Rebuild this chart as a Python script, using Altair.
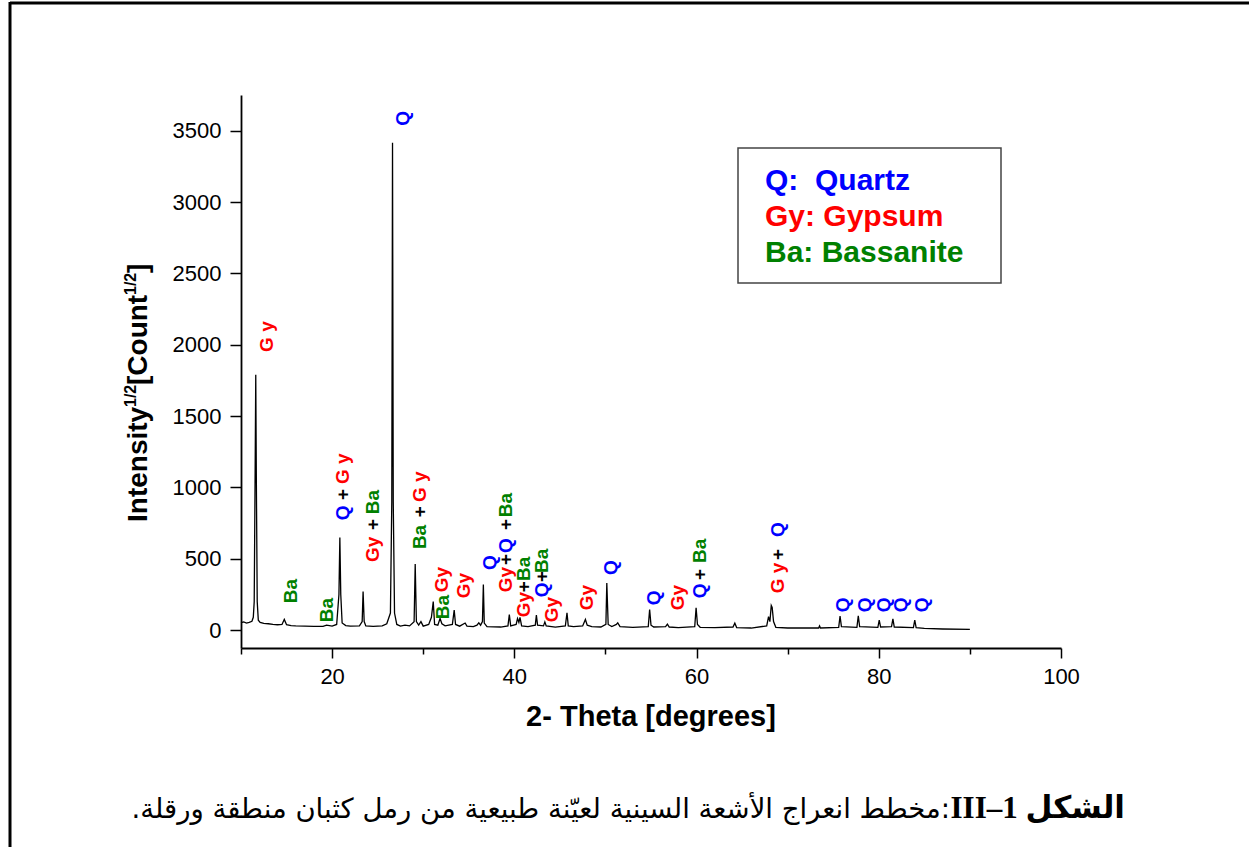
import altair as alt
import pandas as pd

# ---------------- data ----------------
two_theta = [10.0, 10.3, 10.6, 10.9, 11.2, 11.35, 11.45, 11.55, 11.62, 11.68, 11.78, 11.9, 12.1, 12.5,
             13.0, 13.5, 14.0, 14.5, 14.75, 15.0, 15.5, 16.0, 17.0, 18.0, 19.0, 19.4, 20.0, 20.5,
             20.75, 20.85, 20.95, 21.1, 21.5, 22.0, 23.0, 23.3, 23.4, 23.52, 23.7, 24.5, 25.5, 26.0,
             26.4, 26.55, 26.63, 26.71, 26.85, 27.1, 27.5, 28.0, 28.5, 29.0, 29.12, 29.25, 29.5, 29.75,
             30.0, 30.6, 30.9, 31.1, 31.25, 31.6, 31.85, 32.05, 32.4, 33.2, 33.4, 33.55, 34.0, 34.6,
             34.8, 35.5, 35.9, 36.1, 36.3, 36.5, 36.6, 36.7, 37.0, 38.5, 39.3, 39.45, 39.6, 40.2,
             40.35, 40.5, 40.62, 40.8, 41.5, 42.3, 42.42, 42.55, 43.2, 43.35, 43.5, 44.5, 45.6, 45.78,
             45.92, 46.5, 47.5, 47.8, 48.0, 48.5, 49.5, 50.05, 50.15, 50.3, 50.7, 51.2, 51.35, 51.6,
             53.0, 54.7, 54.85, 55.0, 55.3, 56.6, 56.8, 57.0, 58.0, 59.8, 59.95, 60.1, 60.4, 62.0,
             64.0, 64.2, 64.4, 66.0, 67.7, 67.9, 68.05, 68.2, 68.3, 68.45, 68.7, 70.0, 73.4, 73.5,
             73.6, 75.6, 75.75, 75.9, 77.6, 77.75, 77.9, 79.9, 80.05, 80.2, 81.4, 81.55, 81.7, 83.8,
             83.95, 84.1, 85.0, 87.0, 90.0]
intensity = [52, 58, 50, 55, 62, 90, 200, 1100, 1790, 1100, 200, 70, 55, 48,
             45, 40, 38, 40, 75, 38, 32, 30, 28, 26, 26, 35, 28, 40,
             250, 650, 250, 50, 32, 28, 30, 60, 270, 60, 30, 26, 30, 45,
             120, 900, 3415, 900, 120, 40, 28, 35, 30, 60, 463, 60, 35, 60,
             28, 40, 90, 200, 40, 35, 82, 45, 30, 40, 140, 40, 28, 50,
             28, 25, 35, 52, 35, 60, 320, 50, 25, 22, 30, 110, 30, 40,
             82, 55, 89, 30, 25, 35, 105, 35, 30, 58, 30, 22, 30, 121,
             30, 25, 30, 75, 35, 25, 22, 40, 330, 40, 25, 40, 51, 25,
             20, 25, 145, 35, 22, 25, 42, 22, 18, 25, 157, 40, 20, 18,
             22, 49, 18, 15, 30, 94, 60, 173, 160, 60, 20, 15, 15, 30,
             15, 20, 98, 25, 20, 101, 25, 20, 70, 22, 25, 79, 22, 18,
             70, 18, 12, 8, 5]

label_text = ["G y", "Ba", "Ba",
              "Q", "+", "G y",
              "Gy", "+", "Ba",
              "Q",
              "Ba", "+", "G y",
              "Gy", "Ba", "Gy", "Q",
              "Gy", "+", "Q", "+", "Ba",
              "Gy", "+", "Ba",
              "Q", "+", "Ba",
              "Gy", "Gy", "Q", "Q", "Gy",
              "Q", "+", "Ba",
              "G y", "+", "Q",
              "Q", "Q", "Q", "Q", "Q"]
label_mineral = ["Gy", "Ba", "Ba",
                 "Q", "plus", "Gy",
                 "Gy", "plus", "Ba",
                 "Q",
                 "Ba", "plus", "Gy",
                 "Gy", "Ba", "Gy", "Q",
                 "Gy", "plus", "Q", "plus", "Ba",
                 "Gy", "plus", "Ba",
                 "Q", "plus", "Ba",
                 "Gy", "Gy", "Q", "Q", "Gy",
                 "Q", "plus", "Ba",
                 "Gy", "plus", "Q",
                 "Q", "Q", "Q", "Q", "Q"]
label_x = [12.86, 15.49, 19.45,
           21.21, 21.21, 21.21,
           24.5, 24.5, 24.5,
           27.8,
           29.67, 29.67, 29.67,
           32.09, 32.2, 34.5, 37.36,
           39.12, 39.12, 39.12, 39.12, 39.12,
           41.1, 41.1, 41.1,
           43.08, 43.08, 43.08,
           44.18, 48.02, 50.66, 55.38, 57.91,
           60.33, 60.33, 60.33,
           68.9, 68.9, 68.9,
           76.04, 78.46, 80.55, 82.42, 84.73]
label_y = [1950, 189, 56,
           771, 912, 1024,
           477, 701, 813,
           3534,
           568, 792, 898,
           266, 77, 224, 421,
           266, 456, 540, 701, 792,
           91, 266, 344,
           231, 337, 400,
           56, 140, 386, 175, 140,
           224, 351, 470,
           259, 491, 652,
           126, 126, 126, 126, 126]

mineral_names = ["Q", "Gy", "Ba", "plus"]
mineral_colors = ["#0000FF", "#FF0000", "#008000", "#000000"]

legend_lines = ["Q:\u00a0 Quartz", "Gy: Gypsum", "Ba: Bassanite"]

x_tick_values = [10, 20, 30, 40, 50, 60, 70, 80, 90, 100]
y_tick_values = [0, 250, 500, 750, 1000, 1250, 1500, 1750, 2000, 2250, 2500, 2750,
                 3000, 3250, 3500, 3750]

caption_bold = "\u202bالشكل III\u20131\u202c"
caption_rest = "\u202b:مخطط انعراج الأشعة السينية لعيّنة طبيعية من رمل كثبان منطقة ورقلة.\u202c"

# ---------------- chart ----------------
W, H = 820, 553
FONT = "Liberation Sans"

pattern = pd.DataFrame({"two_theta": two_theta, "intensity": intensity})
labels = pd.DataFrame({"t": label_text, "m": label_mineral, "x": label_x, "y": label_y})

xscale = alt.Scale(domain=[10, 100], nice=False)
yscale = alt.Scale(domain=[-125, 3750], nice=False, zero=False)

x_axis = alt.Axis(
    values=x_tick_values,
    labelExpr="datum.value % 20 === 0 ? datum.label : ''",
    tickSize={"condition": {"test": "datum.value % 20 === 0", "value": 10}, "value": 6},
    title=None, labelPadding=8, labelFlush=False, labelOverlap=False, format="d", grid=False,
)
y_axis = alt.Axis(
    values=y_tick_values,
    labelExpr="datum.value % 500 === 0 ? datum.label : ''",
    tickSize={"condition": {"test": "datum.value % 500 === 0", "value": 11}, "value": 6},
    title=None, labelPadding=9, labelFlush=False, labelOverlap=False, format="d", grid=False,
)

line = alt.Chart(pattern).mark_line(color="black", strokeWidth=1.3).encode(
    x=alt.X("two_theta:Q", scale=xscale, axis=x_axis),
    y=alt.Y("intensity:Q", scale=yscale, axis=y_axis),
)

peak_labels = alt.Chart(labels).mark_text(
    angle=270, align="left", baseline="middle", font=FONT, fontWeight="bold", fontSize=19
).encode(
    x=alt.X("x:Q", scale=xscale),
    y=alt.Y("y:Q", scale=yscale),
    text="t:N",
    color=alt.Color("m:N", scale=alt.Scale(domain=mineral_names, range=mineral_colors), legend=None),
)

# legend box
legend_box = alt.Chart().mark_rect(fill="white", stroke="#444444", strokeWidth=1.5).encode(
    x=alt.value(497), x2=alt.value(760), y=alt.value(53), y2=alt.value(188)
)
legend_texts = []
for i, (txt, col) in enumerate(zip(legend_lines, mineral_colors[:3])):
    legend_texts.append(
        alt.Chart().mark_text(
            text=txt, color=col, align="left", baseline="alphabetic",
            font=FONT, fontWeight="bold", fontSize=30
        ).encode(x=alt.value(524), y=alt.value(95 + 36 * i))
    )

# axis titles
x_title = alt.Chart().mark_text(
    text="2- Theta [degrees]", align="center", baseline="alphabetic",
    font=FONT, fontWeight="bold", fontSize=29, color="black"
).encode(x=alt.value(410), y=alt.value(631))

y_pieces = [("Intensity", 28, 427, -94), ("1/2", 16, 312, -105),
            ("[Count", 28, 290, -94), ("1/2", 16, 200, -105), ("]", 28, 178, -94)]
y_title = [
    alt.Chart().mark_text(
        text=t, angle=270, align="left", baseline="alphabetic",
        font=FONT, fontWeight="bold", fontSize=fs, color="black"
    ).encode(x=alt.value(px), y=alt.value(py))
    for t, fs, py, px in y_pieces
]

# page frame
frame_top = alt.Chart().mark_rule(color="black", strokeWidth=3).encode(
    x=alt.value(-231), x2=alt.value(1008), y=alt.value(-92)
)
frame_left = alt.Chart().mark_rule(color="black", strokeWidth=3).encode(
    x=alt.value(-231), y=alt.value(-93), y2=alt.value(752)
)

# caption
cap_bold = alt.Chart().mark_text(
    text=caption_bold, align="right", baseline="alphabetic",
    font="Liberation Serif, DejaVu Sans", fontWeight="bold", fontSize=31, color="black"
).encode(x=alt.value(884), y=alt.value(723))
cap_rest = alt.Chart().mark_text(
    text=caption_rest, align="right", baseline="alphabetic",
    font="DejaVu Sans", fontSize=27.5, color="black"
).encode(x=alt.value(709), y=alt.value(723))

chart = alt.layer(
    line, peak_labels, legend_box, *legend_texts, x_title, *y_title,
    frame_top, frame_left, cap_bold, cap_rest
).properties(
    width=W, height=H,
    background="white",
    autosize=alt.AutoSizeParams(type="none"),
    padding={"left": 241, "top": 95, "right": 188, "bottom": 199},
).configure_view(stroke=None).configure_axis(
    domainColor="black", domainWidth=1.8, tickColor="black", tickWidth=1.5,
    labelFont=FONT, labelFontSize=22, labelColor="black", grid=False,
)

chart.save("out.html", embed_options={"renderer": "svg", "actions": False})
